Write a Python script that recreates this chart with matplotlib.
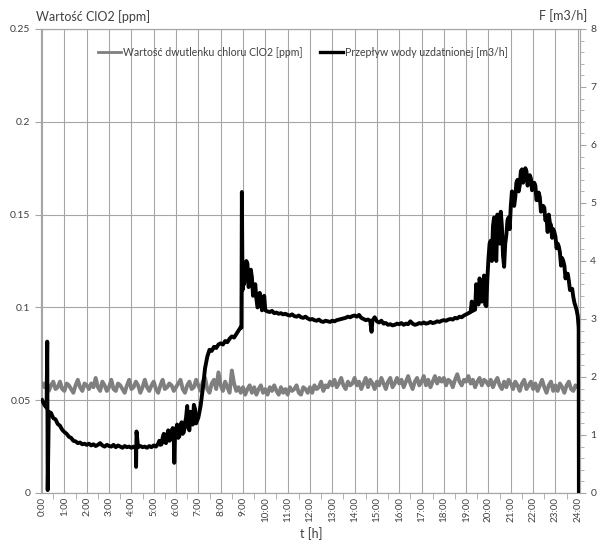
import numpy as np
import matplotlib
matplotlib.use('Agg')
import matplotlib.pyplot as plt
from matplotlib.ticker import MultipleLocator, FuncFormatter

plt.rcParams['font.family'] = ['Lato', 'DejaVu Sans']

# ClO2 value [ppm x 1000], one reading every 0.1 h from 0:00 to 24:00
clo2_milli = [
    59, 57, 60, 55, 58, 60, 56, 57, 60, 56,
    55, 59, 58, 56, 54, 58, 61, 57, 55, 59,
    58, 56, 59, 57, 62, 57, 55, 60, 58, 55,
    57, 61, 56, 55, 59, 58, 56, 54, 58, 61,
    56, 57, 60, 58, 54, 57, 61, 57, 55, 58,
    60, 56, 54, 58, 61, 56, 57, 59, 58, 55,
    57, 59, 61, 56, 54, 58, 60, 56, 57, 61,
    58, 55, 60, 62, 56, 54, 59, 61, 56, 65,
    58, 55, 60, 57, 54, 66, 59, 55, 57, 54,
    57, 53, 56, 58, 54, 57, 53, 56, 58, 54,
    56, 53, 57, 55, 58, 55, 53, 57, 54, 56,
    53, 57, 55, 56, 58, 54, 53, 57, 56, 54,
    57, 54, 58, 56, 57, 60, 55, 58, 57, 60,
    58, 61, 57, 59, 62, 58, 56, 60, 58, 59,
    62, 58, 60, 56, 59, 62, 57, 61, 59, 56,
    60, 58, 62, 59, 56, 60, 62, 57, 59, 62,
    59, 61, 57, 60, 63, 59, 56, 60, 62, 58,
    60, 63, 58, 61, 57, 60, 63, 59, 62, 60,
    62, 58, 61, 60, 57, 61, 64, 60, 58, 61,
    60, 63, 59, 61, 57, 60, 62, 58, 61, 60,
    58, 61, 57, 60, 62, 58, 56, 60, 57, 61,
    59, 56, 60, 58, 55, 59, 61, 56, 58, 60,
    56, 59, 55, 58, 61, 57, 54, 58, 60, 55,
    58, 55, 59, 57, 54, 58, 60, 56, 55, 58,
    57,
]

# flow of treated water [m3/h], one reading every 0.1 h from 0:00 to 24:00
flow = [
    1.60, 1.52, 1.47, 1.40, 1.38, 1.29, 1.27, 1.19, 1.16, 1.09,
    1.05, 1.02, 0.97, 0.95, 0.90, 0.89, 0.86, 0.87, 0.84, 0.85,
    0.83, 0.85, 0.82, 0.84, 0.81, 0.83, 0.86, 0.82, 0.80, 0.83,
    0.81, 0.80, 0.83, 0.79, 0.82, 0.80, 0.78, 0.81, 0.79, 0.80,
    0.78, 0.80, 0.77, 0.79, 0.81, 0.79, 0.80, 0.78, 0.81, 0.79,
    0.82, 0.80, 0.85, 0.83, 0.95, 0.88, 1.00, 0.90, 1.05, 0.93,
    1.10, 0.95, 1.15, 1.02, 1.20, 1.50, 1.08, 1.28, 1.52, 1.20,
    1.30, 1.50, 1.80, 2.15, 2.35, 2.47, 2.45, 2.52, 2.50, 2.56,
    2.58, 2.56, 2.62, 2.60, 2.66, 2.70, 2.68, 2.74, 2.80, 2.86,
    3.90, 3.75, 3.95, 3.60, 3.72, 3.45, 3.35, 3.22, 3.36, 3.18,
    3.15, 3.13, 3.12, 3.14, 3.10, 3.11, 3.09, 3.10, 3.08, 3.09,
    3.07, 3.06, 3.08, 3.05, 3.04, 3.06, 3.03, 3.02, 3.04, 3.01,
    2.99, 3.00, 2.98, 2.97, 2.99, 2.96, 2.95, 2.97, 2.96, 2.95,
    2.97, 2.96, 2.98, 2.99, 3.00, 3.01, 3.02, 3.04, 3.03, 3.05,
    3.06, 3.04, 3.07, 3.02, 3.00, 2.98, 2.99, 2.97, 2.97, 3.03,
    2.96, 2.94, 2.97, 2.92, 2.93, 2.90, 2.91, 2.89, 2.90, 2.92,
    2.91, 2.93, 2.90, 2.92, 2.91, 2.96, 2.92, 2.90, 2.91, 2.93,
    2.92, 2.94, 2.92, 2.93, 2.95, 2.93, 2.94, 2.96, 2.95, 2.97,
    2.98, 2.97, 2.99, 3.00, 2.99, 3.02, 3.01, 3.04, 3.03, 3.06,
    3.08, 3.10, 3.12, 3.14, 3.16, 3.45, 3.70, 3.30, 3.75, 3.22,
    4.05, 4.35, 4.60, 4.15, 4.80, 4.30, 4.60, 3.90, 4.45, 4.75,
    4.95, 5.15, 5.10, 5.40, 5.30, 5.58, 5.45, 5.55, 5.35, 5.42,
    5.25, 5.30, 5.05, 5.10, 4.88, 4.92, 4.75, 4.80, 4.62, 4.55,
    4.42, 4.30, 4.15, 4.05, 3.92, 3.78, 3.66, 3.50, 3.38, 3.22,
    3.05,
]

# extra readings in between: short spikes / dips and the noisy stretches
extra_t = [0.23, 0.25, 4.21, 4.23, 5.92, 8.93, 8.95, 8.98, 14.76, 24.04, 24.05,
           5.25, 5.35, 5.45, 5.55, 5.65, 5.75, 5.85, 5.95, 6.05, 6.15,
           6.25, 6.35, 6.45, 6.55, 6.65, 6.75, 6.85, 6.95,
           9.05, 9.15, 9.25, 9.35, 9.45, 9.55, 9.65, 9.75, 9.85, 9.95,
           19.25, 19.35, 19.45, 19.55, 19.65, 19.75, 19.85, 19.95, 20.05, 20.15,
           20.25, 20.35, 20.45, 20.55, 20.65, 20.75, 20.85, 20.95, 21.05, 21.15,
           21.25, 21.35, 21.45, 21.55, 21.65, 21.75, 21.85, 21.95, 22.05, 22.15,
           22.25, 22.35, 22.45, 22.55, 22.65, 22.75, 22.85, 22.95, 23.05, 23.15,
           23.25, 23.35, 23.45, 23.55, 23.65, 23.75, 23.85, 23.95]
extra_v = [2.61, 0.05, 0.45, 1.06, 0.52, 2.85, 5.19, 3.50, 2.78, 2.85, 0.0,
           0.90, 0.84, 1.02, 0.86, 1.08, 0.92, 1.12, 0.95, 1.18, 0.98,
           1.22, 1.05, 1.30, 1.12, 1.40, 1.18, 1.45, 1.25,
           3.60, 4.00, 3.55, 3.85, 3.40, 3.60, 3.20, 3.45, 3.15, 3.40,
           3.30, 3.20, 3.60, 3.25, 3.55, 3.40, 3.25, 3.70, 4.30, 4.00,
           4.75, 4.00, 4.50, 4.85, 4.10, 4.30, 4.70, 4.55, 5.20, 4.95,
           5.35, 5.20, 5.55, 5.35, 5.60, 5.30, 5.48, 5.22, 5.35, 5.05,
           5.18, 4.85, 4.95, 4.70, 4.50, 4.66, 4.40, 4.50, 4.22, 4.25,
           3.92, 4.00, 3.70, 3.78, 3.50, 3.52, 3.28, 3.15]

hours = list(range(25))
hour_labels = ['%d:00' % h for h in hours]

t_grid = np.arange(len(flow)) * 0.1
t_flow = np.concatenate([t_grid, extra_t])
v_flow = np.concatenate([flow, extra_v])
order = np.argsort(t_flow, kind='stable')
t_flow, v_flow = t_flow[order], v_flow[order]

t_clo2 = np.arange(len(clo2_milli)) * 0.1
clo2 = np.array(clo2_milli) / 1000.0

txt = '#404040'
grid_c = '#a6a6a6'

fig = plt.figure(figsize=(5.98, 5.40), dpi=100)
ax = fig.add_axes([41 / 598, 47 / 540, 539 / 598, 464 / 540])
ax2 = ax.twinx()

ax.plot(t_clo2, clo2, color='#7f7f7f', lw=2.8, zorder=3)
ax2.plot(t_flow, v_flow, color='black', lw=2.8, zorder=4)

ax.set_xlim(-0.05, 24.1)
ax.set_ylim(0, 0.25)
ax2.set_ylim(0, 8)

ax.set_xticks(hours)
ax.set_xticklabels(hour_labels, rotation=90)
ax.xaxis.set_minor_locator(MultipleLocator(0.5))
ax.yaxis.set_major_locator(MultipleLocator(0.05))
ax.yaxis.set_major_formatter(FuncFormatter(lambda v, p: '%g' % round(v, 2)))
ax2.yaxis.set_major_locator(MultipleLocator(1))
ax2.yaxis.set_minor_locator(MultipleLocator(0.2))

ax.grid(True, which='major', color=grid_c, lw=0.8)
ax.set_axisbelow(True)

ax.tick_params(axis='x', which='major', length=0, pad=3, labelsize=7, colors=txt)
ax.tick_params(axis='x', which='minor', length=4, color=grid_c)
ax.tick_params(axis='y', which='major', length=4, color=grid_c, labelsize=7.5, labelcolor=txt)
ax2.tick_params(axis='y', which='major', length=4, color=grid_c, labelsize=7.5, labelcolor=txt)
ax2.tick_params(axis='y', which='minor', length=3, color=grid_c)

for a in (ax, ax2):
    for s in a.spines.values():
        s.set_color(grid_c)
        s.set_linewidth(0.8)

fig.text(36 / 598, 1 - 17 / 540, 'Wartość ClO2 [ppm]', fontsize=9, color=txt, va='center', ha='left')
fig.text(587 / 598, 1 - 16 / 540, 'F [m3/h]', fontsize=9, color=txt, va='center', ha='right')
fig.text(300 / 598, 1 - 534 / 540, 't [h]', fontsize=9, color=txt, va='center', ha='left')

h1, = ax.plot([], [], color='#7f7f7f', lw=2.0)
h2, = ax.plot([], [], color='black', lw=2.4)
fig.legend([h1, h2], ['Wartość dwutlenku chloru ClO2 [ppm]', 'Przepływ wody uzdatnionej [m3/h]'],
           loc='center', bbox_to_anchor=(303 / 598, 1 - 52 / 540), ncol=2, frameon=False,
           fontsize=7.6, handlelength=2.2, handletextpad=0.2, columnspacing=1.6, labelcolor=txt)

fig.savefig('out.png', dpi=100)
